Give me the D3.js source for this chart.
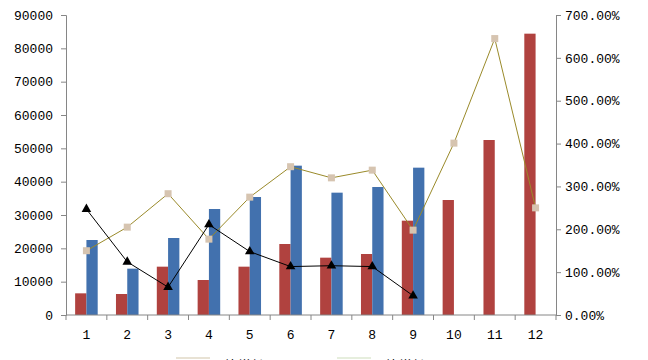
<!DOCTYPE html>
<html><head><meta charset="utf-8">
<script src="https://cdn.jsdelivr.net/npm/d3@7"></script>
<style>body{margin:0;background:#fff;}svg{display:block;}</style>
</head><body>
<svg id="c" width="648" height="360"></svg>
<script>
const categories = ["1","2","3","4","5","6","7","8","9","10","11","12"];
const redValues = [6500, 6300, 14500, 10500, 14500, 21300, 17200, 18300, 28300, 34500, 52500, 84400];
const blueValues = [22500, 13900, 23100, 31800, 35400, 44800, 36700, 38400, 44200, null, null, null];
const tanPct = [1.50, 2.05, 2.83, 1.77, 2.75, 3.46, 3.20, 3.38, 1.98, 4.01, 6.45, 2.50];
const blackPct = [2.47, 1.24, 0.65, 2.11, 1.48, 1.13, 1.15, 1.13, 0.45, null, null, null];
const leftTicks = [0,10000,20000,30000,40000,50000,60000,70000,80000,90000];
const rightTicks = [0,1,2,3,4,5,6,7];
const legendLabels = ["同比增长", "同比增长"];

const svg = d3.select("#c");
const L = 66, R = 556, T = 15, B = 315;
const font = "'Liberation Mono', monospace";

const x0 = d3.scaleBand().domain(categories).range([L, R]).padding(0);
const x1 = d3.scaleBand().domain(["r","b"]).range([0, x0.bandwidth()]).paddingInner(0).paddingOuter(0.81);
const yL = d3.scaleLinear().domain([0, 90000]).range([B, T]);
const yR = d3.scaleLinear().domain([0, 7]).range([B, T]);

// bars
const g = svg.append("g");
categories.forEach((c, i) => {
  g.append("rect").attr("x", x0(c) + x1("r")).attr("width", x1.bandwidth())
    .attr("y", yL(redValues[i])).attr("height", B - yL(redValues[i])).attr("fill", "#B0423F");
  if (blueValues[i] != null)
    g.append("rect").attr("x", x0(c) + x1("b")).attr("width", x1.bandwidth())
      .attr("y", yL(blueValues[i])).attr("height", B - yL(blueValues[i])).attr("fill", "#4271AE");
});

// axes
const axisColor = "#868686";
const la = svg.append("g").attr("transform", `translate(${L},0)`)
  .call(d3.axisLeft(yL).tickValues(leftTicks).tickSize(5).tickPadding(8).tickFormat(d3.format("d")));
const ra = svg.append("g").attr("transform", `translate(${R},0)`)
  .call(d3.axisRight(yR).tickValues(rightTicks).tickSize(5).tickPadding(4).tickFormat(d => d3.format(".2f")(d*100) + "%"));
const xa = svg.append("g").attr("transform", `translate(0,${B})`)
  .call(d3.axisBottom(x0).tickSize(0).tickPadding(15));
// boundary ticks
const bounds = categories.map(c => x0(c)).concat([R]);
svg.append("g").selectAll("line").data(bounds).join("line")
  .attr("x1", d => d).attr("x2", d => d).attr("y1", B).attr("y2", B + 5)
  .attr("stroke", axisColor);
[la, ra, xa].forEach(a => {
  a.selectAll("path.domain").attr("stroke", axisColor);
  a.selectAll(".tick line").attr("stroke", axisColor);
  a.selectAll("text").attr("font-family", font).attr("font-size", 13).attr("fill", "#000");
});
xa.select("path.domain").attr("d", `M${L},0H${R}`);

// lines
const cx = c => x0(c) + x0.bandwidth()/2;
const tanLine = d3.line().x((d,i) => cx(categories[i])).y(d => yR(d));
svg.append("path").attr("d", tanLine(tanPct)).attr("fill", "none").attr("stroke", "#9A8A2A").attr("stroke-width", 1);
svg.append("g").selectAll("rect").data(tanPct).join("rect")
  .attr("x", (d,i) => cx(categories[i]) - 3.5).attr("y", d => yR(d) - 3.5)
  .attr("width", 7).attr("height", 7).attr("fill", "#D6C4B0");

const blackData = blackPct.map((v,i) => ({v, c: categories[i]})).filter(d => d.v != null);
const blackLine = d3.line().x(d => cx(d.c)).y(d => yR(d.v));
svg.append("path").attr("d", blackLine(blackData)).attr("fill", "none").attr("stroke", "#000").attr("stroke-width", 1);
svg.append("g").selectAll("path").data(blackData).join("path")
  .attr("d", d3.symbol(d3.symbolTriangle, 40))
  .attr("transform", d => `translate(${cx(d.c)},${yR(d.v)})`).attr("fill", "#000");

// legend (mostly cut off at bottom)
const leg = [{x: 176, color: "#E8E2D4"}, {x: 337, color: "#E6EEDD"}];
leg.forEach((l, i) => {
  svg.append("line").attr("x1", l.x).attr("x2", l.x + 34).attr("y1", 358).attr("y2", 358)
    .attr("stroke", l.color).attr("stroke-width", 2);
  svg.append("text").attr("x", l.x + 36).attr("y", 370).text(legendLabels[i])
    .attr("font-family", "'Noto Sans CJK SC'").attr("font-size", 13).attr("fill", "#000");
});
</script>
</body></html>
